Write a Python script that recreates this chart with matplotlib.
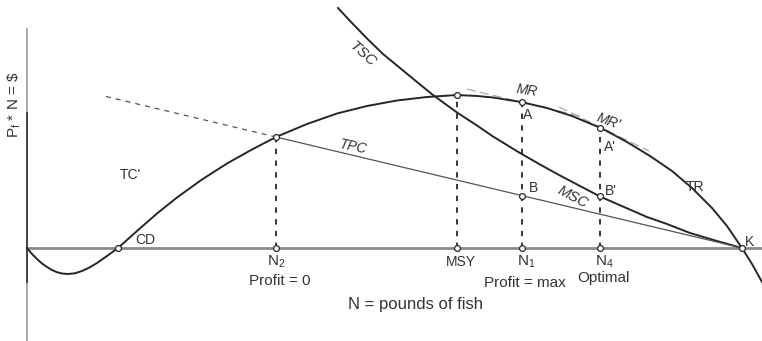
import matplotlib
matplotlib.use("Agg")
import matplotlib.pyplot as plt

plt.rcParams['font.family'] = ['Liberation Sans', 'DejaVu Sans']
plt.rcParams['mathtext.fontset'] = 'custom'
plt.rcParams['mathtext.rm'] = 'Liberation Sans'
plt.rcParams['mathtext.it'] = 'Liberation Sans:italic'

# ---- data (N = pounds of fish, value = $) ----
tr_n = [0, 5, 10, 15, 20, 25, 30, 35, 41, 48, 55, 62, 70, 80, 91, 110, 130,
        150, 175, 200, 225, 249, 280, 310, 340, 370, 400, 430, 450, 466, 494,
        520, 545, 575, 600, 623, 645, 665, 685, 700, 715, 725, 735]
tr_v = [0, -6, -11, -15.5, -19, -22, -24.2, -25.5, -26, -25.3, -23, -19.7,
        -15, -8, 0, 17, 34.5, 50.5, 68.5, 84.5, 98.5, 111, 124, 134.5, 142,
        147.5, 151, 153, 152, 150.5, 146, 140, 132, 119.5, 106, 92, 77, 60,
        40, 22, 0, -16, -34]

tsc_n = [311, 325, 340, 356, 373, 390, 406, 430, 450, 466, 493, 513, 533,
         553, 573, 597, 620, 640, 663, 690, 715]
tsc_v = [240, 225, 209.5, 194, 180, 166, 153, 135.5, 122.5, 111.5, 95, 83.5,
         72.5, 62, 51.5, 41, 31, 24, 15, 7, 0]

tpc_dash_n = [79, 249]
tpc_dash_v = [151.5, 111]
tpc_n = [249, 715]
tpc_v = [111, 0]

# key quantities on the N axis
cd_n, n2_n, msy_n, n1_n, n4_n, k_n = 91, 249, 430, 495, 573, 715
n2_v, msy_v, a_v, a2_v = 111, 153, 146, 120     # TR values
b_v, b2_v = 52.4, 52                             # TPC at N1, TSC at N4

# tangents (MR lines) : point, slope, extent
mr_pt = (494, 146); mr_slope = -0.2382; mr_ext = (440, 556)
mr2_pt = (575, 120); mr2_slope = -0.49; mr2_ext = (532, 622)

dark = '#262626'
tc = '#333333'

fig = plt.figure(figsize=(7.62, 3.41), dpi=100)
ax = fig.add_axes([0, 0, 1, 1])
ax.set_xlim(-27, 735)
ax.set_ylim(-93, 248)
ax.axis('off')

# axes
ax.plot([0, 735], [0, 0], color='#8a8a8a', lw=2.0, zorder=1)
ax.plot([0, 0], [-93, 219], color='#9a9a9a', lw=1.2, zorder=1)
ax.plot([0, 0], [-34, 135], color='#444444', lw=1.4, zorder=1)

# tangent MR lines
for (px, py), s, (x0, x1) in [(mr_pt, mr_slope, mr_ext), (mr2_pt, mr2_slope, mr2_ext)]:
    ax.plot([x0, x1], [py + s * (x0 - px), py + s * (x1 - px)],
            color='#a0a0a0', lw=0.8, ls=(0, (8, 4)), zorder=2)

# curves
ax.plot(tr_n, tr_v, color=dark, lw=1.4, zorder=3, solid_joinstyle='round')
ax.plot(tsc_n, tsc_v, color=dark, lw=1.4, zorder=3, solid_joinstyle='round')
ax.plot(tpc_n, tpc_v, color='#555555', lw=0.9, zorder=3)
ax.plot(tpc_dash_n, tpc_dash_v, color='#555555', lw=0.9, ls=(0, (4, 4)), zorder=3)

# dashed verticals
for xn, top in [(n2_n, n2_v), (msy_n, msy_v), (n1_n, a_v), (n4_n, a2_v)]:
    ax.plot([xn, xn], [0, top], color=dark, lw=1.3, ls=(0, (3, 3.5)), zorder=2)

# markers
mx = [cd_n, n2_n, n2_n, msy_n, msy_n, n1_n, n1_n, n1_n, n4_n, n4_n, n4_n, k_n]
my = [0, 0, n2_v, 0, msy_v, 0, a_v, b_v, 0, a2_v, b2_v, 0]
ax.plot(mx, my, 'o', ms=4.2, mfc='white', mec=dark, mew=0.9, ls='none', zorder=5)

# labels
ax.text(-13, 143, r'$\mathregular{P_f}$ * N = \$', rotation=90, ha='center', va='center', fontsize=11, color=tc)
ax.text(103, 73, "TC'", ha='center', va='center', fontsize=10, color=tc)
ax.text(108, 8, "CD", ha='left', va='center', fontsize=10, color=tc)
ax.text(249, -14, r'$\mathregular{N_2}$', ha='center', va='center', fontsize=11, color=tc)
ax.text(434, -14, 'MSY', ha='center', va='center', fontsize=10, color=tc)
ax.text(499, -14, r'$\mathregular{N_1}$', ha='center', va='center', fontsize=11, color=tc)
ax.text(577, -14, r'$\mathregular{N_4}$', ha='center', va='center', fontsize=11, color=tc)
ax.text(253, -33, 'Profit = 0', ha='center', va='center', fontsize=11, color=tc)
ax.text(498, -35, 'Profit = max', ha='center', va='center', fontsize=11, color=tc)
ax.text(576, -30, 'Optimal', ha='center', va='center', fontsize=11, color=tc)
ax.text(389, -57, 'N = pounds of fish', ha='center', va='center', fontsize=12, color=tc)
ax.text(718, 6, 'K', ha='left', va='center', fontsize=10, color=tc)
ax.text(668, 61, 'TR', ha='center', va='center', fontsize=10, color=tc)
ax.text(506, 60, 'B', ha='center', va='center', fontsize=10, color=tc)
ax.text(584, 57, "B'", ha='center', va='center', fontsize=10, color=tc)
ax.text(501, 133, 'A', ha='center', va='center', fontsize=10, color=tc)
ax.text(583, 101, "A'", ha='center', va='center', fontsize=10, color=tc)
ax.text(500, 157, 'MR', ha='center', va='center', fontsize=10, style='italic', rotation=-8, color=tc)
ax.text(581, 127, "MR'", ha='center', va='center', fontsize=10, style='italic', rotation=-20, color=tc)
ax.text(336, 194, 'TSC', ha='center', va='center', fontsize=11, style='italic', rotation=-42, color=tc)
ax.text(326, 101, 'TPC', ha='center', va='center', fontsize=10, style='italic', rotation=-12, color=tc)
ax.text(546, 51, 'MSC', ha='center', va='center', fontsize=10.5, style='italic', rotation=-28, color=tc)

fig.savefig('out.png', dpi=100)
